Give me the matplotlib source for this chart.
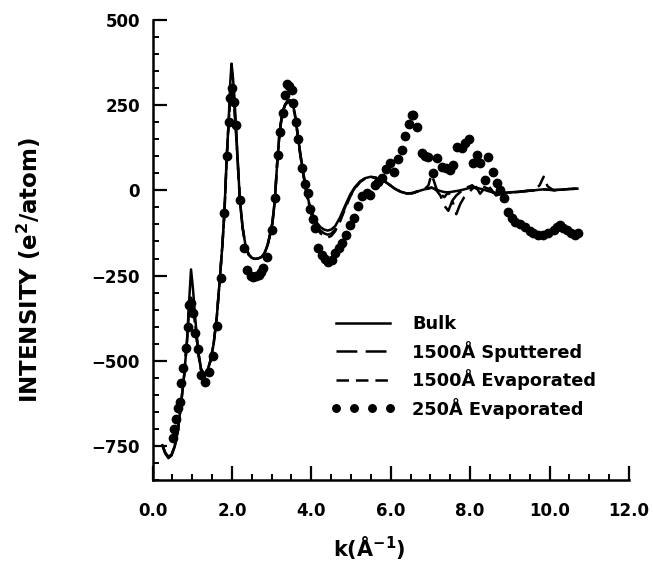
import matplotlib
matplotlib.use("Agg")
import matplotlib.pyplot as plt
from matplotlib.ticker import MultipleLocator, FixedLocator

plt.rcParams['font.family'] = ['DejaVu Sans']
plt.rcParams['font.weight'] = 'bold'
plt.rcParams['mathtext.fontset'] = 'dejavusans'
plt.rcParams['lines.scale_dashes'] = False

# ---- data ----
k_line = [0.25, 0.32, 0.40, 0.48, 0.56, 0.64, 0.72, 0.80, 0.87, 0.92,
          0.97, 1.02, 1.08, 1.15, 1.22, 1.30, 1.38, 1.46, 1.54, 1.62,
          1.70, 1.76, 1.81, 1.87, 1.92, 1.96, 1.99, 2.02, 2.06, 2.10,
          2.15, 2.20, 2.27, 2.34, 2.42, 2.50, 2.58, 2.66, 2.74, 2.82,
          2.90, 2.96, 3.02, 3.08, 3.14, 3.20, 3.27, 3.34, 3.40, 3.46,
          3.52, 3.58, 3.64, 3.72, 3.80, 3.88, 3.96, 4.05, 4.14, 4.23,
          4.32, 4.41, 4.50, 4.60, 4.72, 4.85, 4.98, 5.10, 5.23, 5.36,
          5.50, 5.65, 5.80, 5.95, 6.10, 6.25, 6.40, 6.55, 6.70,
          6.85, 6.95, 7.02, 7.08, 7.15, 7.25, 7.35, 7.45, 7.55, 7.65,
          7.75, 7.85, 7.95, 8.05, 8.15, 8.25, 8.35, 8.45, 8.55, 8.65,
          8.80, 9.00, 9.20, 9.40, 9.60, 9.75, 9.85, 9.95, 10.10, 10.30,
          10.50, 10.70]

bulk = [-748, -772, -786, -778, -752, -705, -625, -540, -440, -330,
        -232, -290, -380, -470, -522, -540, -530, -500, -450, -370,
        -253, -160, -67, 99, 210, 320, 372, 340, 280, 192,
        80, -28, -110, -160, -188, -198, -201, -200, -196, -185,
        -160, -130, -95, -30, 80, 170, 228, 252, 262, 265,
        258, 230, 180, 110, 50, -5, -45, -75, -95, -108,
        -115, -118, -115, -105, -80, -45, -12, 10, 26, 36,
        40, 36, 30, 18, 5, -4, -9, -8, -2,
        3, 6, 8, 6, 2, -2, -5, -6, -4, -2,
        0, 3, 6, 8, 8, 5, 2, -2, -5, -7,
        -8, -6, -4, -2, 0, 2, 3, 2, 1, 2,
        4, 5]

sputtered = [-748, -770, -782, -775, -750, -705, -625, -540, -440, -350,
             -315, -330, -395, -475, -525, -540, -530, -500, -450, -370,
             -253, -160, -67, 99, 205, 280, 300, 290, 250, 180,
             75, -28, -110, -160, -188, -198, -201, -200, -196, -185,
             -160, -130, -95, -30, 80, 170, 228, 252, 262, 262,
             255, 228, 178, 108, 48, -8, -50, -82, -105, -118,
             -126, -130, -127, -115, -88, -50, -15, 8, 26, 36,
             40, 36, 30, 18, 5, -4, -9, -8, -2,
             3, 5, 8, 6, 0, -15, -45, -60, -30, -70,
             -40, -20, -10, 5, 10, -10, 5, 15, 0, -15,
             -10, -6, -5, -2, 0, 2, 3, 2, 1, 2,
             4, 5]

evaporated = [-748, -770, -782, -775, -750, -705, -625, -540, -440, -355,
              -335, -345, -400, -478, -527, -540, -530, -500, -450, -370,
              -253, -160, -67, 99, 200, 272, 290, 280, 240, 175,
              72, -28, -110, -160, -188, -198, -201, -200, -196, -185,
              -160, -130, -95, -30, 80, 170, 228, 250, 258, 258,
              250, 225, 175, 105, 45, -12, -55, -88, -112, -126,
              -134, -138, -134, -120, -92, -54, -18, 6, 25, 35,
              40, 36, 30, 18, 5, -4, -9, -8, -2,
              3, 15, 45, 30, 5, -10, -20, -5, -30, -15,
              -5, 5, 10, 15, 5, 15, 10, 5, -5, -10,
              -8, -6, -4, -2, 0, 15, 40, 12, 0, 2,
              4, 5]

k_dots = [0.52, 0.55, 0.60, 0.65, 0.69, 0.73, 0.78, 0.84, 0.89, 0.93,
          0.97, 1.01, 1.07, 1.14, 1.22, 1.32, 1.43, 1.53, 1.62, 1.72,
          1.81, 1.87, 1.92, 1.96, 2.00, 2.04, 2.10, 2.20, 2.30, 2.39,
          2.47, 2.54, 2.61, 2.67, 2.74, 2.79, 2.88, 3.00, 3.09, 3.15,
          3.22, 3.28, 3.33, 3.38, 3.45, 3.51, 3.55, 3.61, 3.67, 3.76,
          3.84, 3.91, 3.97, 4.03, 4.08, 4.18, 4.26, 4.34, 4.43, 4.52,
          4.60, 4.69, 4.77, 4.87, 4.97, 5.08, 5.17, 5.27, 5.40, 5.48,
          5.60, 5.68, 5.77, 5.88, 5.98, 6.07, 6.18, 6.28, 6.36, 6.45,
          6.53, 6.57, 6.65, 6.78, 6.87, 6.95, 7.07, 7.16, 7.28, 7.38,
          7.49, 7.58, 7.66, 7.79, 7.88, 7.96, 8.08, 8.17, 8.25, 8.38,
          8.46, 8.57, 8.67, 8.76, 8.84, 8.96, 9.05, 9.13, 9.25, 9.38,
          9.50, 9.59, 9.70, 9.84, 9.95, 10.10, 10.18, 10.26, 10.35, 10.43,
          10.53, 10.64, 10.72]

dots250 = [-728, -700, -672, -640, -620, -566, -520, -462, -400, -336,
           -330, -361, -420, -466, -542, -561, -532, -486, -398, -258,
           -67, 100, 202, 270, 300, 260, 192, -28, -170, -234,
           -250, -253, -250, -248, -240, -229, -195, -116, -23, 104,
           170, 228, 280, 311, 305, 295, 256, 200, 150, 65,
           20, -7, -56, -85, -109, -168, -190, -200, -209, -205,
           -185, -170, -153, -131, -102, -80, -46, -16, -7, -13,
           16, 25, 35, 62, 81, 55, 91, 119, 161, 195,
           221, 221, 185, 109, 100, 99, 50, 94, 70, 65,
           60, 75, 128, 124, 140, 150, 80, 104, 81, 31,
           97, 55, 21, 0, -23, -63, -80, -92, -100, -107,
           -118, -126, -130, -131, -125, -116, -108, -102, -110, -116,
           -125, -131, -125]

labels = ['Bulk', '1500Å Sputtered', '1500Å Evaporated', '250Å Evaporated']
x_ticks = [0, 2, 4, 6, 8, 10, 12]
x_ticklabels = ['0.0', '2.0', '4.0', '6.0', '8.0', '10.0', '12.0']
y_ticks = [-750, -500, -250, 0, 250, 500]

# ---- figure ----
fig = plt.figure(figsize=(6.54, 5.64), dpi=100)
ax = fig.add_axes([152.5 / 654, 1 - 480 / 564, 476.5 / 654, 460 / 564])

lw = 1.8
ax.plot(k_line, bulk, color='black', lw=lw, ls='-', label=labels[0])
ax.plot(k_line, sputtered, color='black', lw=lw, dashes=(15, 6), label=labels[1])
ax.plot(k_line, evaporated, color='black', lw=lw, dashes=(9, 5), label=labels[2])
ax.plot(k_dots, dots250, color='black', ls='none', marker='o', ms=6,
        label=labels[3])

ax.set_xlim(0, 12)
ax.set_ylim(-850, 500)
ax.xaxis.set_major_locator(FixedLocator(x_ticks))
ax.set_xticklabels(x_ticklabels)
ax.xaxis.set_minor_locator(MultipleLocator(0.5))
ax.yaxis.set_major_locator(FixedLocator(y_ticks))
ax.yaxis.set_minor_locator(MultipleLocator(50))

for s in ['top', 'right']:
    ax.spines[s].set_visible(False)
for s in ['left', 'bottom']:
    ax.spines[s].set_linewidth(1.8)

ax.tick_params(which='major', direction='in', length=10, width=1.6,
               labelsize=12)
ax.tick_params(which='minor', direction='in', length=4.5, width=1.4)
ax.tick_params(axis='x', which='major', pad=16)
ax.tick_params(axis='y', which='major', pad=9)
for t in ax.get_xticklabels() + ax.get_yticklabels():
    t.set_fontweight('bold')

fig.text(29 / 654, 1 - 270 / 564, r'INTENSITY (e$^{\mathbf{2}}$/atom)',
         rotation=90, ha='center', va='center', fontsize=16.5, fontweight='bold')
fig.text(369 / 654, 1 - 548 / 564, r'k(Å$^{\mathbf{-1}}$)',
         ha='center', va='center', fontsize=15, fontweight='bold')

leg = ax.legend(loc='lower left', bbox_to_anchor=(0.36, 0.118), frameon=False,
                numpoints=4, handlelength=3.6, fontsize=12.8,
                labelspacing=0.42, handletextpad=0.95, markerscale=0.9,
                borderaxespad=0)
for t in leg.get_texts():
    t.set_fontweight('bold')

fig.savefig('out.png', dpi=100)
